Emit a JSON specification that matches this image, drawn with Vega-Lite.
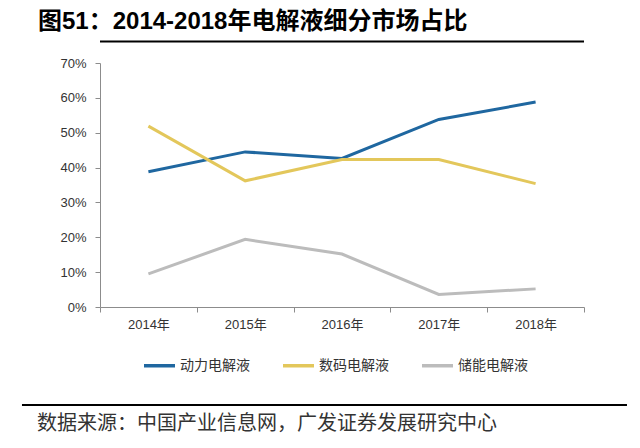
{
  "$schema": "https://vega.github.io/schema/vega-lite/v6.json",
  "width": 484,
  "height": 244,
  "autosize": {"type": "none"},
  "padding": {"left": 100, "top": 63, "right": 56, "bottom": 141},
  "background": "white",
  "title": {
    "text": "图51：2014-2018年电解液细分市场占比",
    "anchor": "start",
    "frame": "group",
    "font": "Liberation Sans, Noto Sans CJK SC",
    "fontSize": 24,
    "fontWeight": "bold",
    "color": "#000000",
    "dx": -62,
    "offset": 6
  },
  "config": {
    "view": {"stroke": null},
    "axis": {
      "grid": false,
      "domainColor": "#8c8c8c",
      "tickColor": "#8c8c8c",
      "labelColor": "#333333",
      "labelFont": "Liberation Sans, Noto Sans CJK SC",
      "labelFontSize": 13,
      "title": null
    }
  },
  "layer": [
    {
      "data": {"values": [{"edge": "header"}]},
      "mark": {"type": "rule", "stroke": "#000000", "strokeWidth": 2, "clip": false},
      "encoding": {
        "y": {"datum": 0.7617}
      }
    },
    {
      "data": {"values": [{"edge": "footer"}]},
      "mark": {"type": "rule", "stroke": "#000000", "strokeWidth": 2, "clip": false, "orient": "horizontal"},
      "encoding": {
        "x": {"datum": 2012.694},
        "x2": {"datum": 2018.944},
        "y": {"datum": -0.2811}
      }
    },
    {
      "data": {"values": [{"source": "数据来源：中国产业信息网，广发证券发展研究中心"}]},
      "mark": {
        "type": "text",
        "align": "left",
        "baseline": "middle",
        "font": "Noto Sans CJK SC",
        "fontSize": 20,
        "color": "#333333",
        "clip": false
      },
      "encoding": {
        "x": {"datum": 2012.849},
        "y": {"datum": -0.3357},
        "text": {"field": "source", "type": "nominal"}
      }
    },
    {
      "data": {
        "values": [
          {"year": 2014, "type": "动力电解液", "share": 0.388},
          {"year": 2015, "type": "动力电解液", "share": 0.445},
          {"year": 2016, "type": "动力电解液", "share": 0.426},
          {"year": 2017, "type": "动力电解液", "share": 0.538},
          {"year": 2018, "type": "动力电解液", "share": 0.588},
          {"year": 2014, "type": "数码电解液", "share": 0.519},
          {"year": 2015, "type": "数码电解液", "share": 0.362},
          {"year": 2016, "type": "数码电解液", "share": 0.423},
          {"year": 2017, "type": "数码电解液", "share": 0.423},
          {"year": 2018, "type": "数码电解液", "share": 0.354},
          {"year": 2014, "type": "储能电解液", "share": 0.095},
          {"year": 2015, "type": "储能电解液", "share": 0.194},
          {"year": 2016, "type": "储能电解液", "share": 0.152},
          {"year": 2017, "type": "储能电解液", "share": 0.036},
          {"year": 2018, "type": "储能电解液", "share": 0.052}
        ]
      },
      "mark": {"type": "line", "strokeWidth": 3},
      "encoding": {
        "x": {
          "field": "year",
          "type": "quantitative",
          "scale": {"domain": [2013.5, 2018.5], "nice": false, "zero": false},
          "axis": {
            "values": [2013.5, 2014.5, 2015.5, 2016.5, 2017.5, 2018.5],
            "labelExpr": "datum.value < 2018 ? (datum.value + 0.5) + '年' : ''",
            "labelOffset": 48.4,
            "labelFlush": false,
            "labelOverlap": false,
            "tickSize": 5,
            "labelPadding": 6
          }
        },
        "y": {
          "field": "share",
          "type": "quantitative",
          "scale": {"domain": [0, 0.7], "nice": false},
          "axis": {
            "values": [0, 0.1, 0.2, 0.3, 0.4, 0.5, 0.6, 0.7],
            "tickCount": 8,
            "format": ".0%",
            "labelOverlap": false,
            "labelFlush": false,
            "tickSize": 5,
            "labelPadding": 9
          }
        },
        "color": {
          "field": "type",
          "type": "nominal",
          "scale": {
            "domain": ["动力电解液", "数码电解液", "储能电解液"],
            "range": ["#1f67a0", "#e3c75b", "#bcbcbc"]
          },
          "legend": {
            "orient": "none",
            "legendX": 42,
            "legendY": 285,
            "direction": "horizontal",
            "title": null,
            "padding": 0,
            "symbolType": "stroke",
            "symbolSize": 961,
            "symbolStrokeWidth": 3.5,
            "labelFont": "Noto Sans CJK SC",
            "labelFontSize": 14,
            "labelColor": "#333333",
            "labelOffset": 3,
            "labelLimit": 200,
            "columnPadding": 26
          }
        }
      }
    }
  ]
}
